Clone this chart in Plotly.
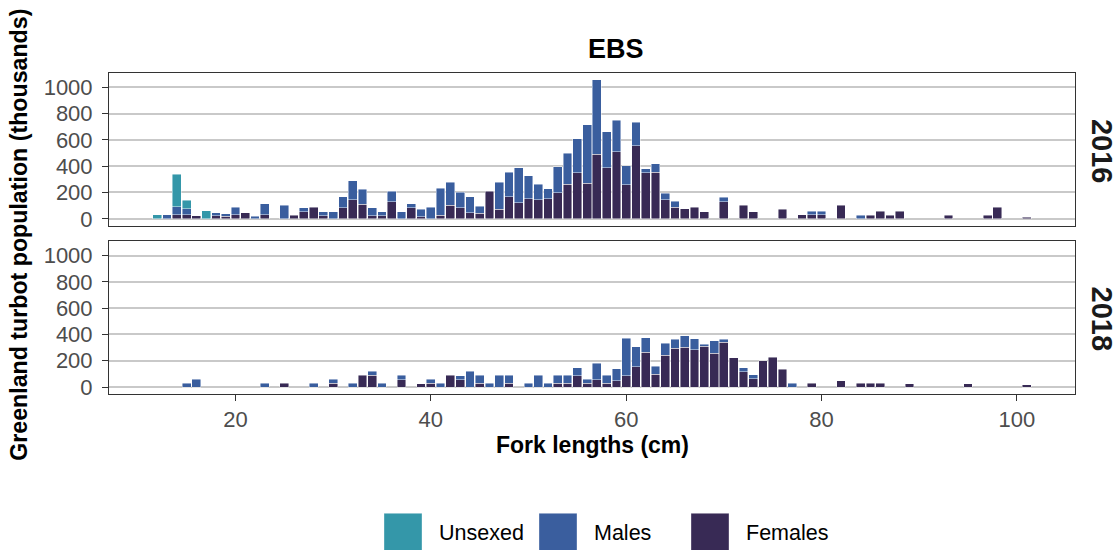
import plotly.graph_objects as go

# ---- EBS length composition (thousands of fish), by survey year and sex ----
f2016_len = [14, 15, 16, 18, 19, 20, 21, 23, 26, 27, 28, 29, 31, 32, 33, 34, 35, 36, 38, 39,
             41, 42, 43, 44, 45, 46, 47, 48, 49, 50, 51, 52, 53, 54, 55, 56, 57, 58, 59, 60,
             61, 62, 63, 64, 65, 66, 67, 68, 70, 72, 73, 76, 78, 79, 80, 82, 85, 86, 87, 88,
             93, 97, 98, 101]
f2016_val = [30, 30, 25, 23, 18, 30, 48, 30, 28, 55, 88, 25, 83, 143, 110, 25, 25, 130, 83, 15,
             28, 103, 83, 45, 43, 211, 73, 166, 123, 153, 143, 151, 199, 261, 349, 269, 490, 387, 508, 259,
             555, 349, 354, 146, 88, 75, 88, 55, 131, 103, 53, 73, 30, 30, 30, 103, 28, 58, 28, 58,
             28, 28, 88, 13]

m2016_len = [13, 14, 15, 18, 19, 20, 22, 23, 25, 27, 29, 30, 31, 32, 33, 34, 35, 36, 37, 38,
             39, 40, 41, 42, 43, 44, 45, 47, 48, 49, 50, 51, 52, 53, 54, 55, 56, 57, 58, 59,
             60, 61, 62, 63, 64, 65, 70, 79, 80, 84]
m2016_val = [30, 63, 48, 22, 20, 58, 20, 85, 103, 28, 30, 55, 85, 146, 116, 58, 30, 79, 55, 30,
             58, 88, 203, 173, 118, 121, 52, 206, 188, 264, 176, 118, 78, 198, 239, 259, 447, 565, 274, 241,
             146, 179, 31, 66, 48, 45, 32, 28, 28, 28]

u2016_len = [12, 14, 15, 17]
u2016_val = [30, 244, 63, 60]

f2018_len = [25, 30, 33, 34, 37, 39, 40, 42, 43, 45, 48, 53, 54, 55, 56, 57, 58, 59, 60, 61,
             62, 63, 64, 65, 66, 67, 68, 69, 70, 71, 72, 73, 74, 75, 76, 79, 82, 84, 85, 86,
             89, 95, 101]
f2018_val = [30, 30, 88, 88, 55, 25, 30, 88, 55, 30, 30, 28, 30, 85, 30, 55, 28, 48, 85, 153,
             264, 98, 241, 296, 302, 284, 309, 256, 342, 224, 116, 63, 201, 226, 136, 30, 48, 30, 30, 30,
             25, 25, 18]

m2018_len = [15, 16, 23, 28, 30, 32, 34, 35, 37, 40, 41, 43, 44, 45, 46, 47, 48, 50, 51, 52,
             53, 54, 55, 56, 57, 58, 59, 60, 61, 62, 63, 64, 65, 66, 67, 68, 69, 70, 72, 73,
             77]
m2018_val = [30, 60, 30, 30, 30, 30, 33, 30, 33, 28, 28, 30, 121, 60, 28, 88, 58, 28, 90, 28,
             60, 60, 63, 28, 126, 62, 90, 287, 154, 110, 60, 93, 66, 88, 85, 18, 98, 22, 30, 30,
             30]

u2018_len = []
u2018_val = []

sex_labels = ["Unsexed", "Males", "Females"]
sex_colors = {"Unsexed": "#3497A9", "Males": "#3A5E9E", "Females": "#382A55"}
years = ["2016", "2018"]
y_ticks = [0, 200, 400, 600, 800, 1000]
x_ticks = [20, 40, 60, 80, 100]

FONT = "Liberation Sans, Arial, sans-serif"
W, H = 1119, 550
L, R, T, B = 109, 44, 73, 155.5
PW, PH = W - L - R, H - T - B


def px(x):
    return (x - L) / PW


def py(y):
    return (H - B - y) / PH


fig = go.Figure()

series = {
    "2016": [("Females", f2016_len, f2016_val), ("Males", m2016_len, m2016_val),
             ("Unsexed", u2016_len, u2016_val)],
    "2018": [("Females", f2018_len, f2018_val), ("Males", m2018_len, m2018_val),
             ("Unsexed", u2018_len, u2018_val)],
}

for i, yr in enumerate(years):
    xa = "x" if i == 0 else "x2"
    ya = "y" if i == 0 else "y2"
    for sex, lens, vals in series[yr]:
        fig.add_trace(go.Bar(
            x=lens, y=vals, name=sex, width=0.9,
            marker=dict(color=sex_colors[sex],
                        line=dict(color="rgba(255,255,255,0.75)", width=0.6)),
            xaxis=xa, yaxis=ya, showlegend=False,
        ))

x_range = [7.055, 105.945]
y_range = [-52.75, 1107.75]

axis_common = dict(showline=True, linecolor="#333333", linewidth=1, mirror=True,
                   zeroline=False)
y_common = dict(range=y_range, tickvals=y_ticks, showgrid=True, gridcolor="#C9C9C9",
                gridwidth=2, ticks="outside", ticklen=6, tickcolor="#333333",
                ticklabelstandoff=5, tickfont=dict(size=22, color="#4D4D4D"))

fig.update_layout(
    width=W, height=H,
    margin=dict(l=L, r=R, t=T, b=B, pad=0),
    barmode="stack",
    plot_bgcolor="white", paper_bgcolor="white",
    font=dict(family=FONT, color="#4D4D4D", size=21),
    xaxis=dict(domain=[0, 1], anchor="y", range=x_range, showgrid=False,
               showticklabels=False, ticks="", **axis_common),
    xaxis2=dict(domain=[0, 1], anchor="y2", range=x_range, matches="x", showgrid=False,
                tickvals=x_ticks, ticks="outside", ticklen=6, tickcolor="#333333",
                tickfont=dict(size=22, color="#4D4D4D"), **axis_common),
    yaxis=dict(domain=[py(226), 1], anchor="x", **y_common, **axis_common),
    yaxis2=dict(domain=[0, py(241.7)], anchor="x2", **y_common, **axis_common),
)

annotations = [
    dict(text="<b>EBS</b>", x=px(616), y=py(49), font=dict(size=27, color="black")),
    dict(text="<b>Fork lengths (cm)</b>", x=px(592.5), y=py(446), font=dict(size=23, color="black")),
    dict(text="<b>Greenland turbot population (thousands)</b>", x=px(19), y=py(235),
         textangle=-90, font=dict(size=23.2, color="black")),
    dict(text="<b>2016</b>", x=px(1102), y=py(151), textangle=90,
         font=dict(size=29, color="#1A1A1A")),
    dict(text="<b>2018</b>", x=px(1102), y=py(319), textangle=90,
         font=dict(size=29, color="#1A1A1A")),
]

# legend: large colour keys with labels along the bottom
key_left = {"Unsexed": 384, "Males": 539, "Females": 691}
shapes = []
for sex in sex_labels:
    x0 = key_left[sex]
    shapes.append(dict(type="rect", xref="paper", yref="paper",
                       x0=px(x0), x1=px(x0 + 38), y0=py(552), y1=py(514),
                       fillcolor=sex_colors[sex], line=dict(color="rgba(255,255,255,0.6)", width=0.6)))
    annotations.append(dict(text=sex, x=px(x0 + 53), y=py(534), xanchor="left",
                            font=dict(size=21.5, color="black")))

for a in annotations:
    a.setdefault("xref", "paper")
    a.setdefault("yref", "paper")
    a.setdefault("showarrow", False)
    a.setdefault("xanchor", "center")
    a.setdefault("yanchor", "middle")

fig.update_layout(annotations=annotations, shapes=shapes)

fig.write_html("out.html")
